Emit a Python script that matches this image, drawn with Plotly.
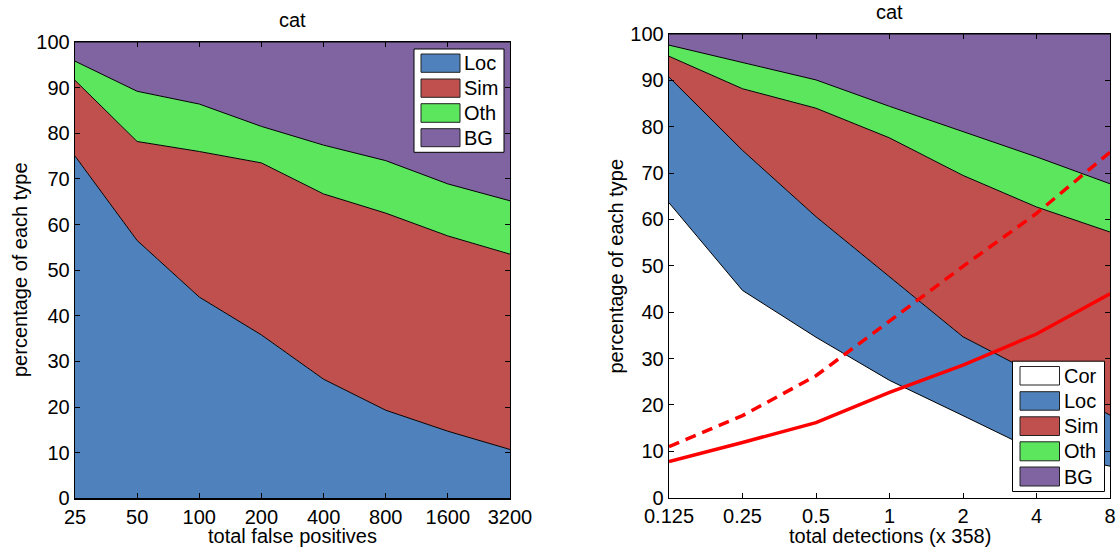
import math
import plotly.graph_objects as go

W, H = 1120, 552

# ---------------- data ----------------
fp_ticks = [25, 50, 100, 200, 400, 800, 1600, 3200]
fp_labels = ["25", "50", "100", "200", "400", "800", "1600", "3200"]
left_loc = [75.0, 56.5, 44.1, 35.8, 26.1, 19.3, 14.7, 10.7]
left_sim = [16.6, 21.7, 31.9, 37.7, 40.6, 43.2, 42.8, 42.8]
left_oth = [4.2, 11.0, 10.4, 8.0, 10.7, 11.5, 11.4, 11.7]
left_bg = [4.2, 10.8, 13.6, 18.5, 22.6, 26.0, 31.1, 34.8]

det_ticks = [0.125, 0.25, 0.5, 1, 2, 4, 8]
det_labels = ["0.125", "0.25", "0.5", "1", "2", "4", "8"]
right_cor = [63.6, 44.7, 34.6, 25.3, 17.7, 10.0, 6.8]
right_loc = [27.1, 30.2, 26.0, 22.3, 17.0, 16.5, 11.0]
right_sim = [4.5, 13.3, 23.4, 30.0, 34.8, 36.2, 39.5]
right_oth = [2.4, 5.7, 6.1, 6.8, 9.4, 10.8, 10.4]
right_bg = [2.4, 6.1, 9.9, 15.6, 21.1, 26.5, 32.3]
recall_solid = [7.8, 11.9, 16.2, 22.7, 28.6, 35.3, 44.0]
recall_dashed = [11.0, 17.7, 26.3, 38.0, 49.9, 61.3, 74.5]

y_ticks = [0, 10, 20, 30, 40, 50, 60, 70, 80, 90, 100]

# ---------------- styles ----------------
C_COR = "#FFFFFF"
C_LOC = "#4F81BD"
C_SIM = "#C0504D"
C_OTH = "#5CE65E"
C_BG = "#8064A2"
FONT = "Liberation Sans, Arial, Helvetica, sans-serif"
FS = 20


def px(x):
    return x / W


def py(y):
    return 1 - y / H


fig = go.Figure()

left_series = [("Loc", left_loc, C_LOC), ("Sim", left_sim, C_SIM),
               ("Oth", left_oth, C_OTH), ("BG", left_bg, C_BG)]
for name, vals, col in left_series:
    fig.add_trace(go.Scatter(
        x=fp_ticks, y=vals, name=name, stackgroup="L", mode="lines",
        line=dict(color="black", width=1), fillcolor=col,
        xaxis="x", yaxis="y", showlegend=False, hoverinfo="skip"))

right_series = [("Cor", right_cor, C_COR), ("Loc", right_loc, C_LOC),
                ("Sim", right_sim, C_SIM), ("Oth", right_oth, C_OTH),
                ("BG", right_bg, C_BG)]
for name, vals, col in right_series:
    fig.add_trace(go.Scatter(
        x=det_ticks, y=vals, name=name, stackgroup="R", mode="lines",
        line=dict(color="black", width=1), fillcolor=col,
        xaxis="x2", yaxis="y2", showlegend=False, hoverinfo="skip"))

fig.add_trace(go.Scatter(
    x=det_ticks, y=recall_dashed, mode="lines",
    line=dict(color="#FF0000", width=3.5, dash="11px,7px"),
    xaxis="x2", yaxis="y2", showlegend=False, hoverinfo="skip"))
fig.add_trace(go.Scatter(
    x=det_ticks, y=recall_solid, mode="lines",
    line=dict(color="#FF0000", width=3.5),
    xaxis="x2", yaxis="y2", showlegend=False, hoverinfo="skip"))

axis_common = dict(
    showline=True, linecolor="black", linewidth=1.3, mirror="ticks",
    ticks="inside", ticklen=5, tickwidth=1, tickcolor="black",
    showgrid=False, zeroline=False, automargin=False,
    tickfont=dict(family=FONT, size=FS, color="black"),
)

fig.update_layout(
    template="none",
    width=W, height=H,
    margin=dict(l=0, r=0, t=0, b=0, pad=0, autoexpand=False),
    paper_bgcolor="white", plot_bgcolor="white",
    font=dict(family=FONT, size=FS, color="black"),
    hovermode=False,
    xaxis=dict(domain=[px(75), px(510)], type="log",
               range=[math.log10(25), math.log10(3200)],
               tickvals=fp_ticks, ticktext=fp_labels, anchor="y", **axis_common),
    yaxis=dict(domain=[py(498.3), py(42)], range=[0, 100],
               tickvals=y_ticks, anchor="x", **axis_common),
    xaxis2=dict(domain=[px(669), px(1110)], type="log",
                range=[math.log10(0.125), math.log10(8)],
                tickvals=det_ticks, ticktext=det_labels, anchor="y2", **axis_common),
    yaxis2=dict(domain=[py(497.7), py(34)], range=[0, 100],
                tickvals=y_ticks, anchor="x2", **axis_common),
)

annotations = []
shapes = []


def text(x, y, s, angle=0, xanchor="center"):
    annotations.append(dict(
        x=px(x), y=py(y), xref="paper", yref="paper", text=s, showarrow=False,
        xanchor=xanchor, yanchor="middle", textangle=angle,
        font=dict(family=FONT, size=FS, color="black")))


# titles and axis labels
text(292.5, 20, "cat")
text(889.5, 12, "cat")
text(292.5, 536, "total false positives")
text(889.5, 536, "total detections (x 358)")
text(20, 270, "percentage of each type", angle=-90)
text(615.5, 266, "percentage of each type", angle=-90)


def legend(box, sw_x, rows, entries, text_x):
    x0, y0, x1, y1 = box
    shapes.append(dict(type="rect", xref="paper", yref="paper",
                       x0=px(x0), x1=px(x1), y0=py(y1), y1=py(y0),
                       line=dict(color="black", width=1), fillcolor="white", layer="above"))
    for (ya, yb), (name, col) in zip(rows, entries):
        shapes.append(dict(type="rect", xref="paper", yref="paper",
                           x0=px(sw_x[0]), x1=px(sw_x[1]), y0=py(yb), y1=py(ya),
                           line=dict(color="#222222", width=1), fillcolor=col, layer="above"))
        text(text_x, (ya + yb) / 2, name, xanchor="left")


legend((414, 49, 504, 152.3), (421, 460),
       [(54, 72.3), (79, 97.3), (103.7, 122.3), (128.7, 146.7)],
       [(n, c) for n, _, c in left_series], 462)
legend((1012.5, 361.2, 1104.5, 491.5), (1020, 1059.5),
       [(366.5, 385), (391.7, 410.2), (416.8, 435.5), (441.8, 460.8), (467, 486)],
       [(n, c) for n, _, c in right_series], 1062)

fig.update_layout(annotations=annotations, shapes=shapes)

fig.write_html(
    "out.html",
    config={"displayModeBar": False, "staticPlot": True},
    post_script="document.body.style.margin='0';document.body.style.overflow='hidden';",
)
